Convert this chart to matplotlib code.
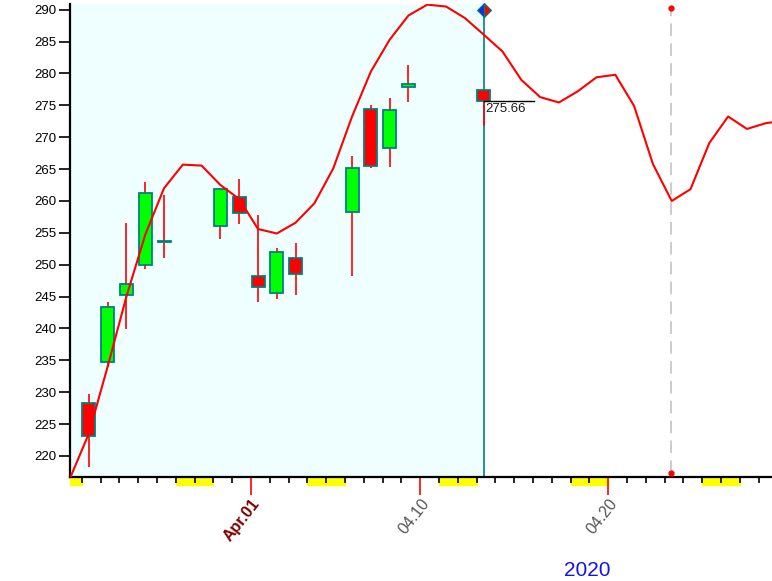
import matplotlib
matplotlib.use('Agg')
import matplotlib.pyplot as plt
import matplotlib.dates as mdates
import matplotlib.transforms as mtransforms
from matplotlib.patches import Rectangle
import pandas as pd

plt.rcParams['font.family'] = ['Liberation Sans', 'DejaVu Sans']

# velas diarias (solo dias de mercado)
candle_days = ['2020-03-23', '2020-03-24', '2020-03-25', '2020-03-26', '2020-03-27',
               '2020-03-30', '2020-03-31', '2020-04-01', '2020-04-02', '2020-04-03',
               '2020-04-06', '2020-04-07', '2020-04-08', '2020-04-09', '2020-04-13']
opens  = [228.3, 234.7, 245.2, 250.0, 253.7, 256.0, 260.7, 248.2, 245.5, 251.0,
          258.2, 274.4, 268.3, 277.9, 277.4]
highs  = [229.7, 244.2, 256.5, 262.9, 261.0, 262.0, 263.5, 257.8, 252.7, 253.4,
          267.1, 275.0, 276.1, 281.3, 277.4]
lows   = [218.3, 234.0, 239.9, 249.3, 251.0, 254.0, 256.4, 244.1, 244.7, 245.3,
          248.3, 265.1, 265.4, 275.6, 271.7]
closes = [223.2, 243.3, 246.9, 261.3, 253.6, 261.9, 258.1, 246.5, 252.0, 248.5,
          265.1, 265.5, 274.2, 278.4, 275.66]

# curva roja (todos los dias del calendario)
curve_start = '2020-03-22'
curve_vals = [216.5, 223.5, 234.0, 245.0, 254.7, 262.0, 265.7, 265.55, 262.5, 260.3,
              255.6, 254.9, 256.6, 259.65, 265.1, 273.25, 280.3, 285.3, 289.1, 290.8,
              290.5, 288.7, 286.1, 283.45, 279.0, 276.3, 275.45, 277.2, 279.4, 279.8,
              274.9, 265.8, 260.0, 261.85, 269.1, 273.25, 271.3, 272.2, 272.6]

# fines de semana marcados en amarillo
weekend_starts = ['2020-03-21', '2020-03-28', '2020-04-04', '2020-04-11',
                  '2020-04-18', '2020-04-25']

# marcas del eje x
label_days = ['2020-04-01', '2020-04-10', '2020-04-20']
label_texts = ['Apr.01', '04.10', '04.20']
label_colors = ['#800000', '#555555', '#555555']
label_bold = [True, False, False]

forecast_day = '2020-04-23'
forecast_range = [217.3, 290.3]
year_text = '2020'

bar_shift = pd.Timedelta(hours=9)

cx = mdates.date2num(pd.to_datetime(candle_days) + bar_shift)
curve_dates = pd.date_range(curve_start, periods=len(curve_vals), freq='D') + bar_shift
lx = mdates.date2num(curve_dates)

fig = plt.figure(figsize=(7.72, 5.81), dpi=100)
ax = fig.add_axes([70 / 772, 1 - 477 / 581, 1 - 70 / 772, 473 / 581])

x_left = mdates.date2num(pd.Timestamp(curve_start) + bar_shift)
x_right = mdates.date2num(pd.Timestamp('2020-04-28 17:00'))
ax.set_xlim(x_left, x_right)
ax.set_ylim(216.7, 290.9)

# fondo celeste hasta la ultima vela
ax.axvspan(x_left, cx[-1], color='#EFFFFF', zorder=0)
ax.axvline(cx[-1], color='#008080', lw=1.2, zorder=2)

# mechas
ax.vlines(cx, lows, highs, color='red', lw=1.2, zorder=2)

# cuerpos
body_colors = ['#00FF00' if c >= o else '#FF0000' for o, c in zip(opens, closes)]
bottoms = [min(o, c) for o, c in zip(opens, closes)]
heights = [abs(c - o) for o, c in zip(opens, closes)]
ax.bar(cx, heights, width=0.69, bottom=bottoms, color=body_colors,
       edgecolor='#008080', linewidth=1.3, zorder=3)

# curva
ax.plot(lx, curve_vals, color='red', lw=1.5, zorder=4)

# etiqueta de la ultima vela
ax.plot([cx[-1], cx[-1] + 2.65], [closes[-1], closes[-1]], color='black', lw=1, zorder=5)
ax.text(cx[-1] + 0.08, closes[-1] - 0.25, f'{closes[-1]:.2f}', fontsize=9.5,
        color='#1a1a1a', va='top', ha='left', zorder=5)

# rombo arriba de la linea vertical
ax.plot(cx[-1], 290.0, marker='D', ms=7, fillstyle='left', markerfacecolor='#1030E0',
        markerfacecoloralt='red', markeredgecolor='#008080', markeredgewidth=0.8,
        clip_on=False, zorder=6)

# linea punteada del pronostico
fx = mdates.date2num(pd.Timestamp(forecast_day) + pd.Timedelta(hours=8))
ax.plot([fx, fx], forecast_range, color='#C8C8C8', lw=1.3, ls=(0, (7, 4)), zorder=1)
ax.plot([fx, fx], forecast_range, 'o', color='red', ms=3.5, zorder=5, clip_on=False)

# ejes
for side in ['top', 'right']:
    ax.spines[side].set_visible(False)
ax.spines['left'].set_linewidth(1.6)
ax.spines['bottom'].set_linewidth(1.6)

ax.set_yticks(range(220, 291, 5))
ax.tick_params(axis='y', length=8, width=1.2, pad=2, labelsize=9.5)

ax.xaxis.set_minor_locator(mdates.DayLocator())
ax.set_xticks(mdates.date2num(pd.to_datetime(label_days)))
ax.set_xticklabels(label_texts)
ax.tick_params(axis='x', which='major', length=13, width=1.2, color='red', pad=1,
               labelsize=11.5)
ax.tick_params(axis='x', which='minor', length=4, width=1.2, color='black')
for lab, col, bold in zip(ax.get_xticklabels(), label_colors, label_bold):
    lab.set_color(col)
    lab.set_rotation(52)
    lab.set_ha('right')
    lab.set_va('top')
    lab.set_rotation_mode('anchor')
    if bold:
        lab.set_fontweight('bold')

# franjas amarillas de fin de semana
trans = mtransforms.blended_transform_factory(ax.transData, ax.transAxes)
for ws in weekend_starts:
    x0 = mdates.date2num(pd.Timestamp(ws))
    x1 = x0 + 2
    x0 = max(x0, x_left)
    ax.add_patch(Rectangle((x0, -8 / 473), x1 - x0, 8 / 473, transform=trans,
                           color='#FFFF00', clip_on=False, zorder=1))

fig.text(587 / 772, 1 - 570 / 581, year_text, color='#1414E6', fontsize=15,
         ha='center', va='center')

fig.savefig('out.png', dpi=100)
